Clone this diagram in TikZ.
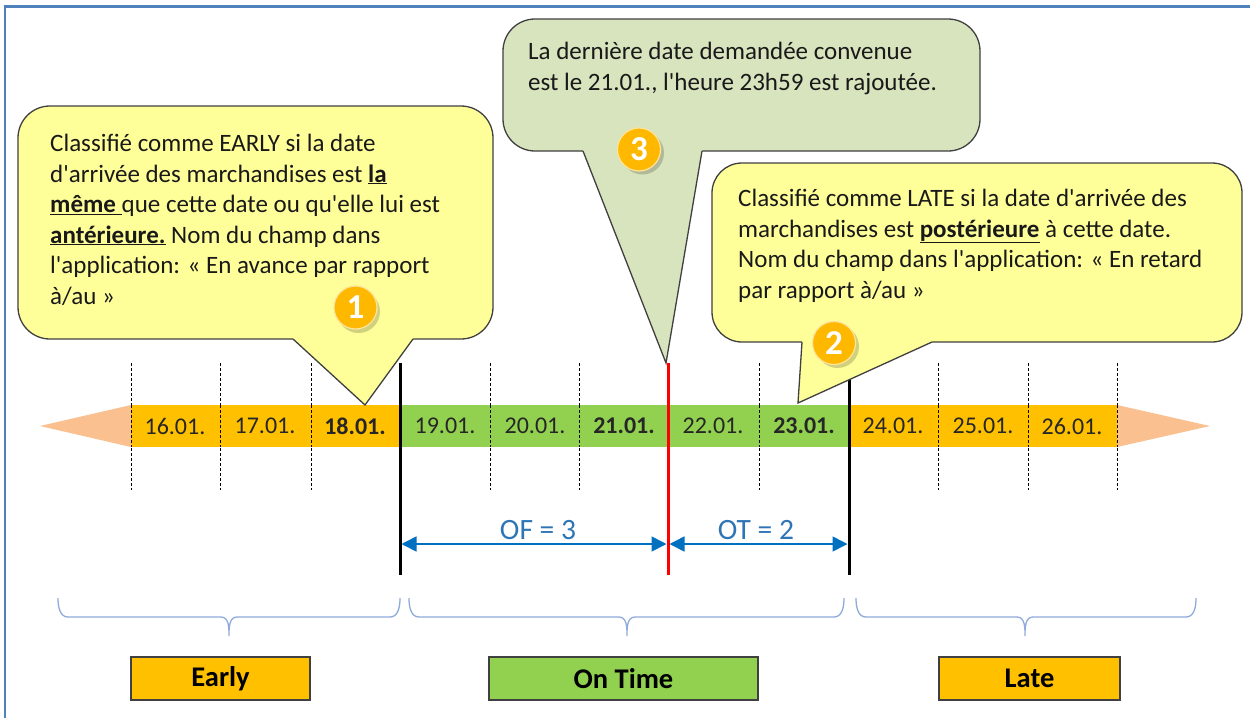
\documentclass[tikz,border=0pt]{standalone}
\usepackage{fontspec}
\setmainfont{Carlito}[Ligatures=TeXOff]
\usetikzlibrary{arrows.meta}
\definecolor{frameblue}{RGB}{79,129,189}
\definecolor{orng}{RGB}{255,192,0}
\definecolor{grn}{RGB}{146,208,80}
\definecolor{peach}{RGB}{250,192,143}
\definecolor{yel}{RGB}{255,255,153}
\definecolor{sage}{RGB}{215,228,189}
\definecolor{bdr}{RGB}{64,64,64}
\definecolor{dimblue}{RGB}{0,112,192}
\definecolor{dimtxt}{RGB}{46,117,182}
\definecolor{brblue}{RGB}{143,170,220}
\definecolor{numor}{RGB}{255,184,0}
\tikzset{
  bal/.style={draw=bdr, line width=1.3pt},
  dashv/.style={black, line width=0.9pt, dash pattern=on 3pt off 2pt},
  cell/.style={font=\fontsize{24}{28}\selectfont, text=black!85, inner sep=0},
  num/.style={circle, fill=numor, draw=white!60!numor, line width=1.2pt, minimum size=43pt, inner sep=0, text=white, font=\fontsize{35}{36}\selectfont\bfseries},
  numshadow/.style={fill=black, opacity=0.18},
  catbox/.style={draw=bdr, line width=1.5pt, minimum height=43pt, font=\fontsize{28.5}{30}\selectfont\bfseries, inner sep=0},
  dim/.style={{Triangle[length=15pt,width=15pt]}-{Triangle[length=15pt,width=15pt]}, draw=dimblue, line width=1.6pt},
  brace/.style={draw=brblue, line width=1.3pt},
  btxt/.style={anchor=north west, inner sep=0, align=left, font=\fontsize{25}{30.5}\selectfont, text=black!90},
  dimlbl/.style={anchor=base, inner sep=0, text=dimtxt, font=\fontsize{29.5}{31}\selectfont}
}
\begin{document}
\begin{tikzpicture}[x=1pt,y=-1pt]
\useasboundingbox (0,0) rectangle (1250,718);
\fill[white] (0,0) rectangle (1250,718);
% frame
\draw[frameblue, line width=2.2pt] (5,718) -- (5,6.5) -- (1250,6.5);

% dashed day separators
\foreach \x in {131,220,311,490,579,759,938,1028,1117}
  \draw[dashv] (\x,363) -- (\x,490);

% bar
\fill[peach] (131,405) -- (40,426) -- (131,447) -- cycle;
\fill[peach] (1117,405) -- (1210,426) -- (1117,447) -- cycle;
\fill[orng] (131,405) rectangle (400,447);
\fill[grn] (400,405) rectangle (849,447);
\fill[orng] (849,405) rectangle (1117,447);
\foreach \x in {131,220,311,490,579,759,938,1028,1117}
  \draw[dashv] (\x,405) -- (\x,447);

% dates
\node[cell] (d16) at (175,426) {16.01.};
\node[cell] (d17) at (265,426) {17.01.};
\node[cell] (d18) at (355,426) {\textbf{18.01.}};
\node[cell] (d19) at (445,426) {19.01.};
\node[cell] (d20) at (535,426) {20.01.};
\node[cell] (d21) at (624,426) {\textbf{21.01.}};
\node[cell] (d22) at (713,426) {22.01.};
\node[cell] (d23) at (804,426) {\textbf{23.01.}};
\node[cell] (d24) at (893,426) {24.01.};
\node[cell] (d25) at (983,426) {25.01.};
\node[cell] (d26) at (1072,426) {26.01.};

% boundary lines
\coordinate (earlyTop) at (400,363);
\coordinate (earlyBot) at (400,575);
\coordinate (dueTop) at (668,363);
\coordinate (dueBot) at (668,575);
\coordinate (lateTop) at (849,363);
\coordinate (lateBot) at (849,575);
\draw[black, line width=3pt] (earlyTop) -- (earlyBot);
\draw[black, line width=3pt] (lateTop) -- (lateBot);
\draw[red, line width=3pt] (dueTop) -- (dueBot);

% dimension arrows
\coordinate (dimA) at (401.5,544);
\coordinate (dimB) at (666.5,544);
\coordinate (dimC) at (669.5,544);
\coordinate (dimD) at (847.5,544);
\draw[dim] (dimA) -- (dimB);
\draw[dim] (dimC) -- (dimD);
\node[dimlbl] (of) at (538,539) {OF = 3};
\node[dimlbl] (ot) at (756,539) {OT = 2};

% braces
\draw[brace] (58,598) to[out=-90,in=180] (68,617) -- (221,617) to[out=0,in=90] (229,636)
  to[out=90,in=180] (237,617) -- (390,617) to[out=0,in=-90] (400,598);
\draw[brace] (409,598) to[out=-90,in=180] (419,617) -- (619,617) to[out=0,in=90] (627,636)
  to[out=90,in=180] (635,617) -- (834,617) to[out=0,in=-90] (844,598);
\draw[brace] (856,598) to[out=-90,in=180] (866,617) -- (1017,617) to[out=0,in=90] (1025,636)
  to[out=90,in=180] (1033,617) -- (1186,617) to[out=0,in=-90] (1196,598);

% category boxes
\node[catbox, fill=orng, minimum width=179pt] (early) at (220.5,678.5) {Early};
\node[catbox, fill=grn, minimum width=269pt] (ontime) at (623.5,678.5) {On Time};
\node[catbox, fill=orng, minimum width=181pt] (late) at (1029.5,678.5) {Late};

% balloon 1
\filldraw[bal, fill=yel, rounded corners=32pt] (18,106) rectangle (493,339);
\fill[yel] (413,339) -- (365,405) -- (293,339) -- (293,336) -- (413,336) -- cycle;
\draw[bal] (413,339) -- (365,405) -- (293,339);
\node[btxt] (t1) at (50,134) {Classifié comme EARLY si la date\\
d'arrivée des marchandises est \underline{\textbf{la}}\\
\underline{\textbf{même }}que cette date ou qu'elle lui est\\
\underline{\textbf{antérieure.}} Nom du champ dans\\
l'application: « En avance par rapport\\
à/au »};
\fill[numshadow] (358.5,311.5) circle (21.5pt);
\node[num] (n1) at (355.5,307.5) {1};

% balloon 3
\filldraw[bal, fill=sage, rounded corners=32pt] (503,19) rectangle (980,151);
\fill[sage] (702,151) -- (666,363) -- (583,151) -- (583,148) -- (702,148) -- cycle;
\draw[bal] (702,151) -- (666,363) -- (583,151);
\node[btxt] (t3) at (528,42) {La dernière date demandée convenue\\
est le 21.01., l'heure 23h59 est rajoutée.};
\fill[numshadow] (642.5,153) circle (21.5pt);
\node[num] (n3) at (639,149.5) {3};

% balloon 2
\filldraw[bal, fill=yel, rounded corners=30pt] (712,163) rectangle (1242,342);
\fill[yel] (932,342) -- (798,403) -- (802,342) -- (802,339) -- (932,339) -- cycle;
\draw[bal] (932,342) -- (798,403) -- (802,342);
\node[btxt] (t2) at (738,189) {Classifié comme LATE si la date d'arrivée des\\
marchandises est \underline{\textbf{postérieure}} à cette date.\\
Nom du champ dans l'application: « En retard\\
par rapport à/au »};
\fill[numshadow] (837.5,346.5) circle (21.5pt);
\node[num] (n2) at (834,343) {2};
\end{tikzpicture}
\end{document}
